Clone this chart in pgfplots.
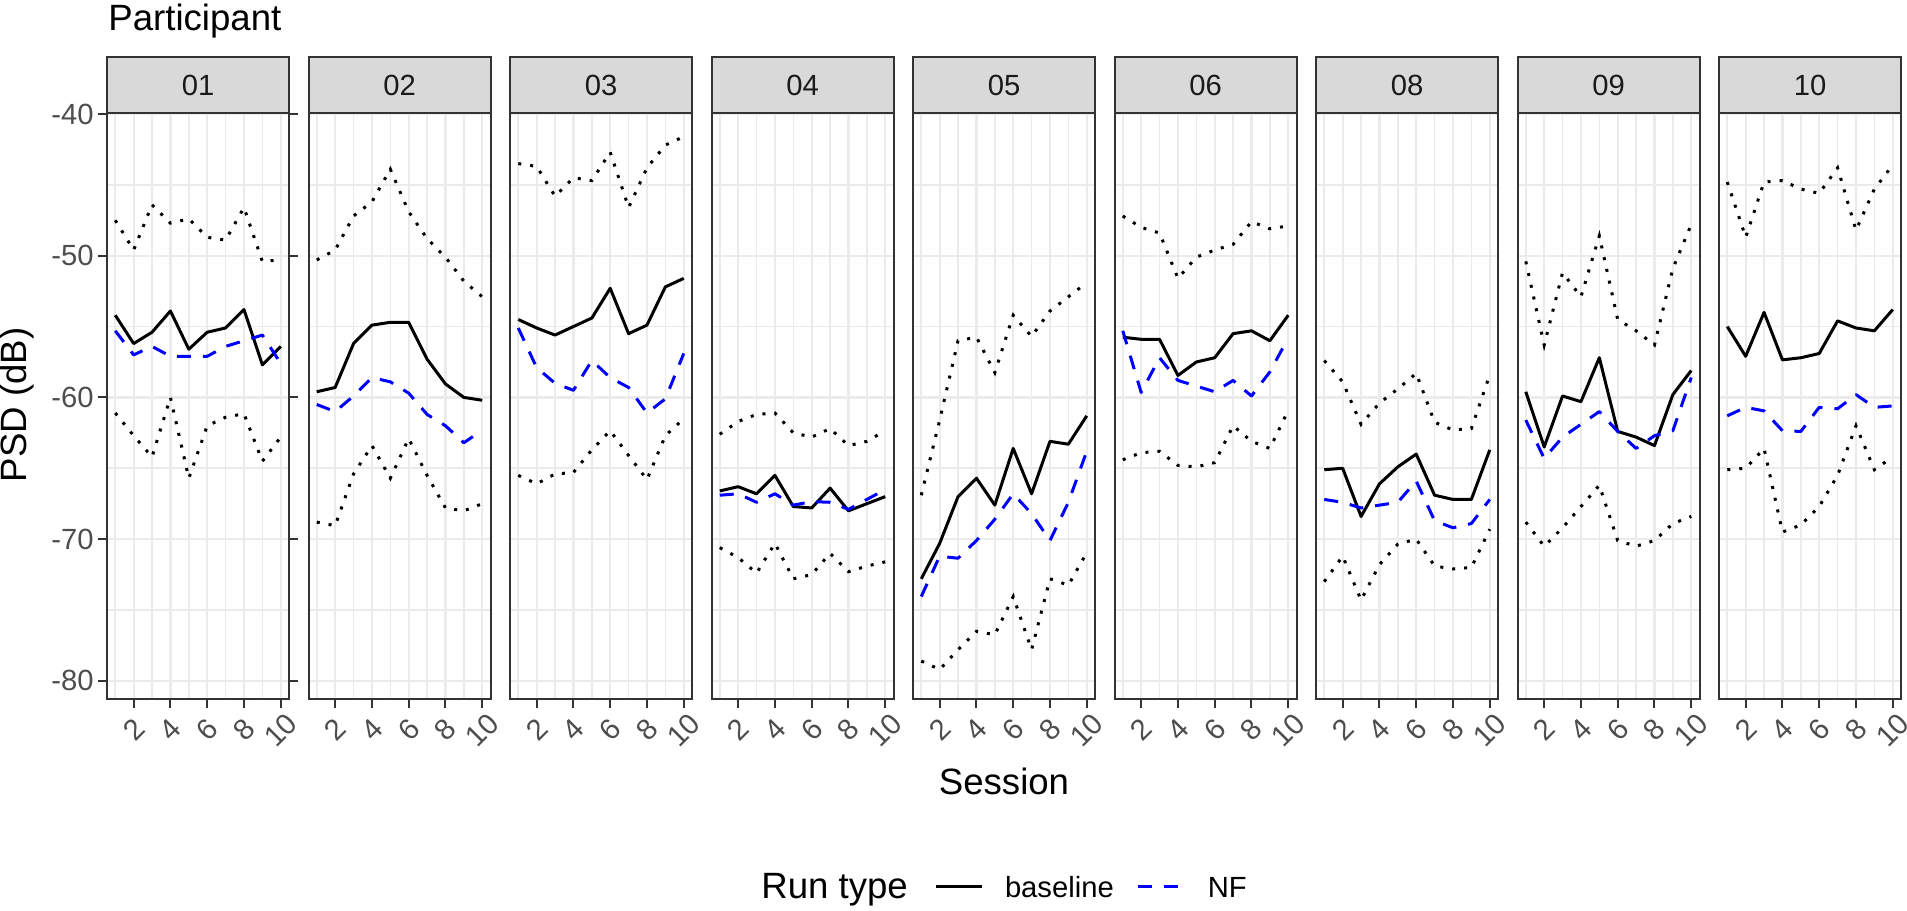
\documentclass[border=0pt]{standalone}
\usepackage{fontspec}
\setmainfont{Liberation Sans}
\usepackage{pgfplots}
\usepackage{pgfplotstable}
\pgfplotsset{compat=1.18}

\definecolor{gridgrey}{HTML}{EBEBEB}
\definecolor{stripgrey}{HTML}{D9D9D9}
\definecolor{greytwenty}{HTML}{333333}
\definecolor{greythirty}{HTML}{4D4D4D}
\definecolor{greyten}{HTML}{1A1A1A}
\definecolor{nfblue}{HTML}{0000FF}

\newcommand{\smallfont}{\fontsize{14.6bp}{17bp}\selectfont}
\newcommand{\bigfont}{\fontsize{18.3bp}{22bp}\selectfont}

% columns: session, upper dotted, baseline, NF, lower dotted
\pgfplotstableread{
s U B N L
1 -47.5 -54.2 -55.3 -61.1
2 -49.6 -56.2 -57.0 -62.7
3 -46.4 -55.4 -56.4 -64.2
4 -47.7 -53.9 -57.1 -60.0
5 -47.4 -56.6 -57.1 -65.7
6 -48.7 -55.4 -57.1 -62.0
7 -48.9 -55.1 -56.4 -61.4
8 -46.6 -53.8 -56.0 -61.15
9 -50.4 -57.7 -55.6 -64.5
10 -50.3 -56.4 -57.6 -62.8
}\tabA
\pgfplotstableread{
s U B N L
1 -50.3 -59.6 -60.5 -68.8
2 -49.6 -59.3 -61.0 -69.05
3 -47.2 -56.2 -59.9 -65.4
4 -46.2 -54.9 -58.6 -63.4
5 -43.9 -54.7 -58.9 -65.7
6 -46.9 -54.7 -59.7 -62.9
7 -48.8 -57.3 -61.2 -65.5
8 -50.1 -59.05 -62.0 -67.8
9 -51.8 -60.0 -63.2 -68.0
10 -52.9 -60.2 -62.3 -67.5
}\tabB
\pgfplotstableread{
s U B N L
1 -43.5 -54.5 -55.1 -65.5
2 -43.7 -55.1 -57.9 -66.1
3 -45.8 -55.6 -59.0 -65.4
4 -44.5 -55.0 -59.5 -65.3
5 -44.7 -54.4 -57.4 -63.7
6 -42.7 -52.3 -58.6 -62.35
7 -46.6 -55.5 -59.3 -64.1
8 -43.8 -54.9 -61.1 -65.8
9 -42.2 -52.2 -60.1 -62.7
10 -41.6 -51.6 -56.9 -61.5
}\tabC
\pgfplotstableread{
s U B N L
1 -62.6 -66.6 -66.9 -70.6
2 -61.7 -66.3 -66.8 -71.3
3 -61.2 -66.8 -67.4 -72.4
4 -61.1 -65.5 -66.8 -70.3
5 -62.5 -67.7 -67.6 -72.8
6 -62.8 -67.8 -67.35 -72.5
7 -62.2 -66.4 -67.4 -71.0
8 -63.4 -68.0 -67.9 -72.3
9 -63.1 -67.5 -67.2 -71.9
10 -62.35 -67.0 -66.5 -71.6
}\tabD
\pgfplotstableread{
s U B N L
1 -66.9 -72.8 -74.05 -78.6
2 -61.6 -70.3 -71.2 -79.2
3 -56.0 -67.0 -71.35 -77.8
4 -55.75 -65.7 -70.1 -76.5
5 -58.25 -67.6 -68.6 -76.75
6 -54.2 -63.6 -66.8 -74.05
7 -55.7 -66.8 -68.2 -77.8
8 -53.9 -63.1 -70.1 -72.8
9 -52.9 -63.3 -67.4 -73.25
10 -51.9 -61.3 -63.8 -70.95
}\tabE
\pgfplotstableread{
s U B N L
1 -47.2 -55.75 -55.3 -64.4
2 -48.0 -55.9 -59.65 -63.9
3 -48.4 -55.9 -57.2 -63.8
4 -51.6 -58.45 -58.8 -64.8
5 -50.1 -57.5 -59.2 -64.9
6 -49.6 -57.2 -59.6 -64.6
7 -49.2 -55.5 -58.8 -62.0
8 -47.6 -55.3 -59.9 -63.1
9 -48.1 -56.0 -58.2 -63.6
10 -47.9 -54.2 -55.8 -60.9
}\tabF
\pgfplotstableread{
s U B N L
1 -57.4 -65.1 -67.2 -73.0
2 -58.9 -65.0 -67.4 -71.2
3 -61.9 -68.4 -67.8 -74.3
4 -60.4 -66.1 -67.6 -71.8
5 -59.4 -64.9 -67.4 -70.35
6 -58.3 -64.0 -65.9 -70.0
7 -61.75 -66.9 -68.7 -71.9
8 -62.3 -67.2 -69.2 -72.1
9 -62.2 -67.2 -68.9 -72.0
10 -58.4 -63.7 -67.2 -69.3
}\tabG
\pgfplotstableread{
s U B N L
1 -50.4 -59.6 -61.6 -68.8
2 -56.3 -63.5 -64.3 -70.5
3 -51.2 -59.9 -62.8 -69.2
4 -52.9 -60.3 -61.9 -67.7
5 -48.6 -57.2 -61.0 -66.2
6 -54.5 -62.4 -62.4 -70.1
7 -55.3 -62.8 -63.6 -70.5
8 -56.3 -63.4 -62.7 -70.1
9 -50.9 -59.8 -62.35 -68.9
10 -47.8 -58.1 -58.6 -68.4
}\tabH
\pgfplotstableread{
s U B N L
1 -44.8 -55.0 -61.3 -65.1
2 -48.7 -57.1 -60.7 -65.0
3 -44.8 -54.0 -60.95 -63.6
4 -44.7 -57.35 -62.35 -69.5
5 -45.3 -57.2 -62.4 -69.0
6 -45.6 -56.9 -60.7 -67.7
7 -43.8 -54.6 -60.8 -65.5
8 -48.2 -55.1 -59.8 -62.0
9 -45.3 -55.3 -60.7 -65.1
10 -43.6 -53.8 -60.6 -64.2
}\tabI

\pgfplotsset{
  panel/.style={
    scale only axis, width=91bp, height=293bp,
    anchor=south west,
    xmin=0.55, xmax=10.45, ymin=-81.28, ymax=-39.93,
    xtick={2,4,6,8,10}, minor xtick={1,3,5,7,9},
    ytick={-80,-70,-60,-50,-40}, minor ytick={-75,-65,-55,-45},
    grid=both,
    major grid style={draw=gridgrey, line width=1.1bp},
    minor grid style={draw=gridgrey, line width=0.8bp},
    tick align=outside, major tick length=4.5bp, minor tick length=0pt,
    axis line style={draw=greytwenty, line width=1bp},
    every tick/.append style={draw=greytwenty, line width=1bp},
    xticklabel style={font=\smallfont, text=greythirty, anchor=center, yshift=-11bp, rotate=45},
    yticklabel style={font=\smallfont, text=greythirty, inner sep=2pt},
    /pgf/number format/assume math mode=true,
    clip=false,
  },
  noy/.style={yticklabels={}, ytick style={draw=none}},
  strip/.style={after end axis/.append code={
     \draw[fill=stripgrey, draw=greytwenty, line width=1bp] (axis description cs:0,1) rectangle ([yshift=28bp]axis description cs:1,1);
     \node[font=\smallfont, text=greyten] at ([yshift=14bp]axis description cs:0.5,1) {#1};}},
  bl/.style={black, line width=1.5bp, solid, line join=round},
  nf/.style={nfblue, line width=1.5bp, dash pattern=on 7bp off 6bp, line join=round},
  ci/.style={black, line width=1.5bp, dash pattern=on 1.5bp off 4.5bp},
}

\newcommand{\panel}[4]{%
\begin{axis}[panel, at={(#1bp,106bp)}, strip=#2, #4]
\addplot[ci, forget plot] table[x=s,y=U]{#3};
\addplot[ci, forget plot] table[x=s,y=L]{#3};
\addplot[bl] table[x=s,y=B]{#3};
\addplot[nf] table[x=s,y=N]{#3};
\end{axis}}

\begin{document}
\begin{tikzpicture}
\path[use as bounding box] (0,0) rectangle (953.5bp,455.5bp);
\panel{53.5}{01}{\tabA}{}
\panel{154.25}{02}{\tabB}{noy}
\panel{255}{03}{\tabC}{noy}
\panel{355.75}{04}{\tabD}{noy}
\begin{axis}[panel, at={(456.5bp,106bp)}, strip=05, noy,
  legend columns=-1,
  legend style={at={(axis description cs:0.1154,-0.3208)}, anchor=west, draw=none, fill=none,
    inner sep=0pt, outer sep=0pt, font=\smallfont,
    cells={anchor=west}, nodes={inner sep=0pt, text depth=0pt},
    /tikz/every odd column/.append style={column sep=11bp},
    /tikz/every even column/.append style={column sep=11.5bp}},
  legend image code/.code={\draw[#1] (0bp,0bp) -- (23bp,0bp);}]
\addplot[ci, forget plot] table[x=s,y=U]{\tabE};
\addplot[ci, forget plot] table[x=s,y=L]{\tabE};
\addplot[bl] table[x=s,y=B]{\tabE};
\addlegendentry{baseline}
\addplot[nf] table[x=s,y=N]{\tabE};
\addlegendentry{NF}
\end{axis}
\panel{557.25}{06}{\tabF}{noy}
\panel{658}{08}{\tabG}{noy}
\panel{758.75}{09}{\tabH}{noy}
\panel{859.5}{10}{\tabI}{noy}
\node[font=\bigfont, anchor=base west, inner sep=0pt] at (54bp,440bp) {Participant};
\node[font=\bigfont, anchor=base, inner sep=0pt] at (502bp,58bp) {Session};
\node[font=\bigfont, rotate=90, inner sep=0pt] at (8.75bp,253bp) {PSD (dB)};
\node[font=\bigfont, anchor=base west, inner sep=0pt] at (380.5bp,6.5bp) {Run type};
\end{tikzpicture}
\end{document}
